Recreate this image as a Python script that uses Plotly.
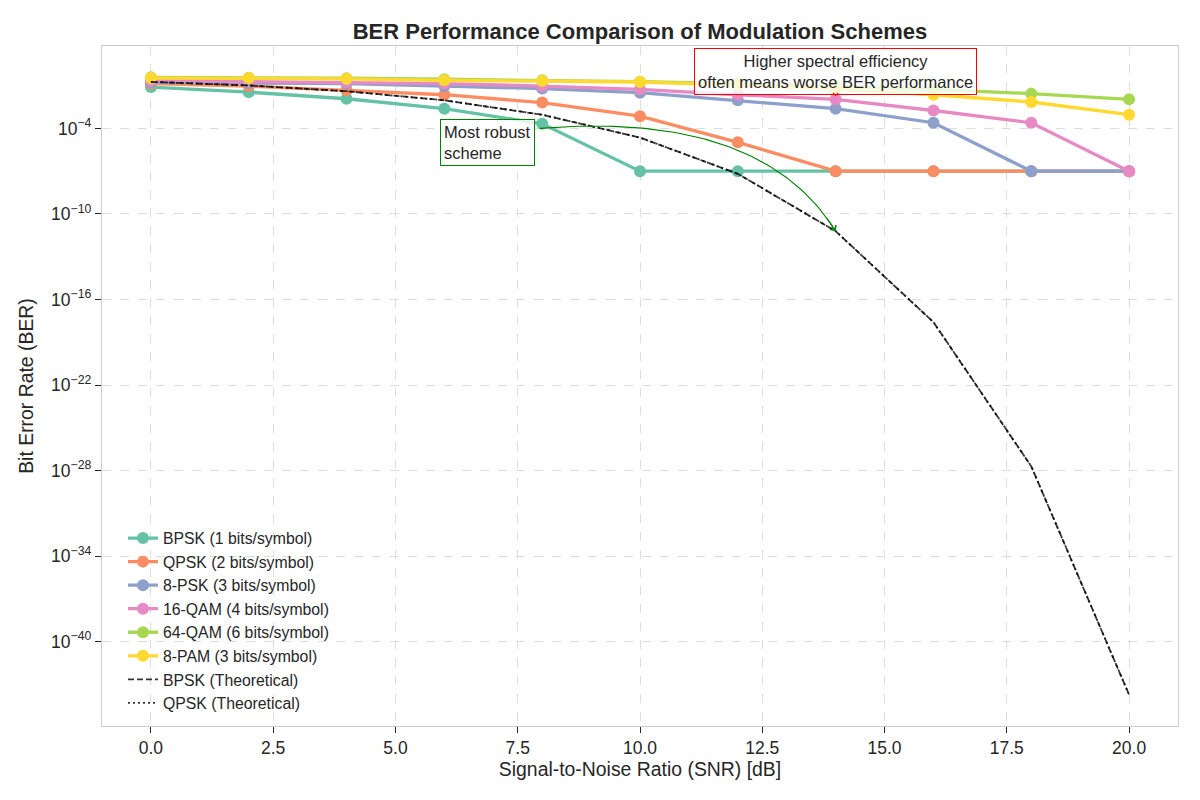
import numpy as np
import plotly.graph_objects as go

# ---------------- data ----------------
snr_db = [0, 2, 4, 6, 8, 10, 12, 14, 16, 18, 20]

ber_bpsk = [7.9e-2, 3.5e-2, 1.2e-2, 2.4e-3, 2.1e-4, 1e-7, 1e-7, 1e-7, 1e-7, 1e-7, 1e-7]
ber_qpsk = [1.4e-1, 9.3e-2, 4.7e-2, 2.3e-2, 6.5e-3, 7.2e-4, 1.05e-5, 1e-7, 1e-7, 1e-7, 1e-7]
ber_8psk = [1.7e-1, 1.5e-1, 1.4e-1, 9.3e-2, 6.2e-2, 3.2e-2, 9.3e-3, 2.4e-3, 2.5e-4, 1e-7, 1e-7]
ber_16qam = [2.3e-1, 2.0e-1, 1.8e-1, 1.4e-1, 9.3e-2, 5.5e-2, 2.3e-2, 1.1e-2, 1.8e-3, 2.5e-4, 1e-7]
ber_64qam = [3.8e-1, 3.6e-1, 3.3e-1, 2.8e-1, 2.4e-1, 1.9e-1, 1.4e-1, 9.0e-2, 5.5e-2, 2.75e-2, 1.1e-2]
ber_8pam = [3.4e-1, 3.4e-1, 3.0e-1, 2.35e-1, 2.1e-1, 1.8e-1, 1.1e-1, 5.6e-2, 2.3e-2, 7.1e-3, 9.1e-4]

ber_bpsk_theory = [1.84e-1, 1.03e-1, 4.06e-2, 9.33e-3, 9.09e-4, 2.27e-5, 6.55e-8,
                   6.17e-12, 2.57e-18, 1.98e-28, 1.86e-44]
ber_qpsk_theory = [1.84e-1, 1.03e-1, 4.06e-2, 9.33e-3, 9.09e-4, 2.27e-5, 6.55e-8,
                   6.17e-12, 2.57e-18, 1.98e-28, 1.86e-44]

scheme_names = ["BPSK (1 bits/symbol)", "QPSK (2 bits/symbol)", "8-PSK (3 bits/symbol)",
                "16-QAM (4 bits/symbol)", "64-QAM (6 bits/symbol)", "8-PAM (3 bits/symbol)"]
theory_names = ["BPSK (Theoretical)", "QPSK (Theoretical)"]

x_tick_vals = [0, 2.5, 5, 7.5, 10, 12.5, 15, 17.5, 20]
x_tick_text = ["0.0", "2.5", "5.0", "7.5", "10.0", "12.5", "15.0", "17.5", "20.0"]
y_tick_vals = [1e-4, 1e-10, 1e-16, 1e-22, 1e-28, 1e-34, 1e-40]
y_tick_text = ["10<sup>−4</sup>", "10<sup>−10</sup>", "10<sup>−16</sup>", "10<sup>−22</sup>",
               "10<sup>−28</sup>", "10<sup>−34</sup>", "10<sup>−40</sup>"]

# ---------------- style ----------------
palette = ["#66c2a5", "#fc8d62", "#8da0cb", "#e78ac3", "#a6d854", "#ffd92f"]
FONT = "Liberation Sans, Arial, sans-serif"
TXT = "#262626"

fig = go.Figure()

series = [ber_bpsk, ber_qpsk, ber_8psk, ber_16qam, ber_64qam, ber_8pam]
for i, (name, vals) in enumerate(zip(scheme_names, series)):
    fig.add_trace(go.Scatter(
        x=snr_db, y=vals, name=name, mode="lines+markers",
        line=dict(color=palette[i], width=3.3),
        marker=dict(color=palette[i], size=12),
        legendgroup=f"g{i}",
    ))

fig.add_trace(go.Scatter(
    x=snr_db, y=ber_bpsk_theory, name=theory_names[0], mode="lines",
    line=dict(color="rgba(0,0,0,0.8)", width=1.8, dash="6px,3px"),
    legendgroup="t0",
))
fig.add_trace(go.Scatter(
    x=snr_db, y=ber_qpsk_theory, name=theory_names[1], mode="lines",
    line=dict(color="rgba(0,0,0,0.8)", width=1.8, dash="2px,3px"),
    legendgroup="t1",
))

# curved green arrow (annotation geometry in (x, log10 y) space)
p0 = np.array([7.95, -4.0])
c = np.array([12.46, -2.73])
p2 = np.array([snr_db[7], np.log10(ber_bpsk_theory[7])])
t = np.linspace(0, 1, 80)[:, None]
curve = (1 - t) ** 2 * p0 + 2 * t * (1 - t) * c + t ** 2 * p2
fig.add_trace(go.Scatter(
    x=curve[:, 0], y=10 ** curve[:, 1], mode="lines",
    line=dict(color="green", width=1.1), showlegend=False, hoverinfo="skip",
))
pre = curve[-6]

fig.add_annotation(
    x=p2[0], y=p2[1], ax=pre[0], ay=pre[1], axref="x", ayref="y",
    xref="x", yref="y", text="", showarrow=True,
    arrowhead=4, arrowsize=1.3, arrowwidth=1.1, arrowcolor="green", standoff=0,
)
fig.add_annotation(
    x=6, y=-5, xref="x", yref="y", text="Most robust<br>scheme",
    showarrow=False, xanchor="left", yanchor="middle", align="left", xshift=-4,
    font=dict(family=FONT, size=16.5, color=TXT),
    bordercolor="green", borderwidth=1, borderpad=3, bgcolor="rgba(255,255,255,0.8)",
)
fig.add_annotation(
    x=14, y=np.log10(ber_16qam[7]), ax=14, ay=0, axref="x", ayref="y",
    xref="x", yref="y", text="Higher spectral efficiency<br>often means worse BER performance",
    showarrow=True, arrowhead=4, arrowsize=1, arrowwidth=1, arrowcolor="red", standoff=3,
    align="center",
    font=dict(family=FONT, size=16.5, color=TXT),
    bordercolor="red", borderwidth=1, borderpad=3, bgcolor="rgba(255,255,255,0.8)",
)

axis_common = dict(
    showline=True, linecolor="#cccccc", linewidth=1.3, mirror=True,
    showgrid=True, gridcolor="#dddddd", gridwidth=1, griddash="dash",
    ticks="outside", ticklen=6, tickwidth=1.3, tickcolor=TXT,
    tickfont=dict(family=FONT, size=17.5, color=TXT),
    zeroline=False,
)

fig.update_layout(
    width=1200, height=800,
    margin=dict(l=102, r=22, t=46, b=74),
    paper_bgcolor="white", plot_bgcolor="white",
    font=dict(family=FONT, color=TXT),
    title=dict(text="BER Performance Comparison of Modulation Schemes",
               x=0.5333, xanchor="center", y=1 - 31 / 800, yanchor="middle",
               font=dict(family=FONT, size=22, color=TXT, weight="bold")),
    xaxis=dict(range=[-1, 21], tickvals=x_tick_vals, ticktext=x_tick_text,
               title=dict(text="Signal-to-Noise Ratio (SNR) [dB]", standoff=4,
                          font=dict(family=FONT, size=19.4, color=TXT)),
               **axis_common),
    yaxis=dict(type="log", range=[-45.92, 1.78], tickvals=y_tick_vals, ticktext=y_tick_text,
               title=dict(text="Bit Error Rate (BER)", standoff=12,
                          font=dict(family=FONT, size=19.4, color=TXT)),
               **axis_common),
    legend=dict(x=0.0195, y=0.301, xanchor="left", yanchor="top",
                bgcolor="rgba(0,0,0,0)", borderwidth=0, tracegroupgap=0,
                font=dict(family=FONT, size=15.8, color=TXT)),
    showlegend=True,
)

fig.write_html("out.html")
